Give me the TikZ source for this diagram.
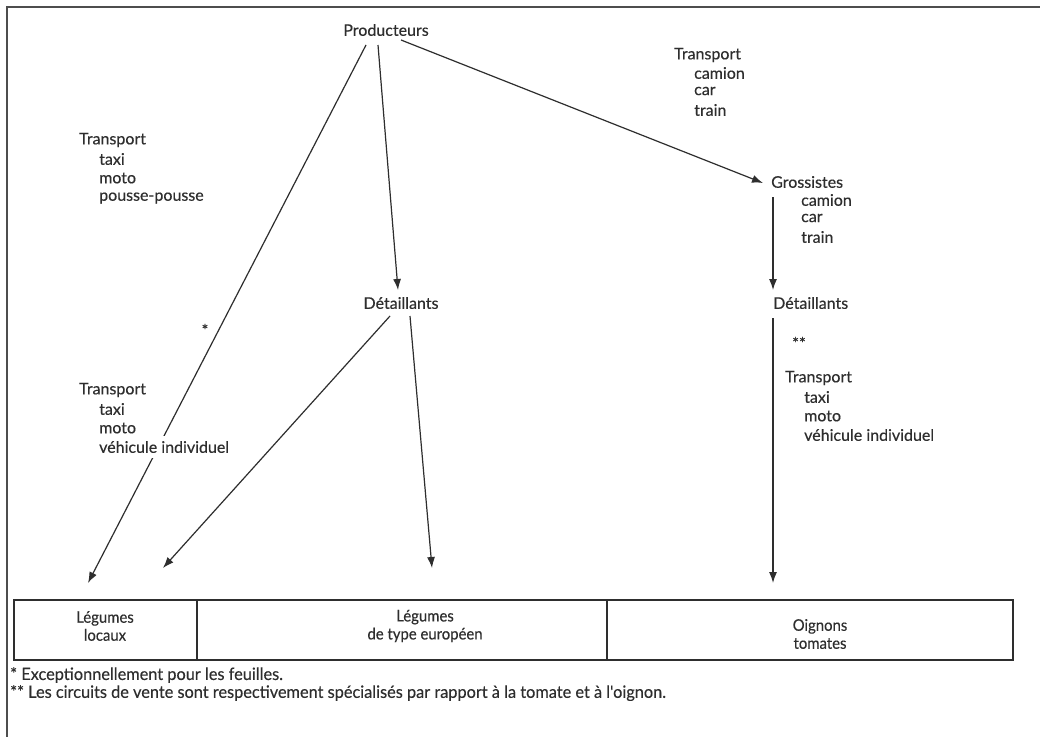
\documentclass[tikz,border=0pt]{standalone}
\usepackage{fontspec}
\setmainfont{Lato}[FakeBold=0.35]
\newfontfamily\condfont[FakeStretch=0.93,FakeBold=0.3]{Lato}
\newfontfamily\footfont[FakeStretch=0.96,FakeBold=0.3]{Lato}
\usetikzlibrary{arrows.meta,calc}
\definecolor{ink}{HTML}{2E2E2E}
\begin{document}
\begin{tikzpicture}[x=1pt,y=-1pt,
  lab/.style={inner sep=1pt,text=ink,font=\fontsize{16}{18}\selectfont},
  lw/.style={lab,anchor=west},
  boxtxt/.style={inner sep=1pt,text=ink,align=center,font=\condfont\fontsize{16}{18}\selectfont},
  foot/.style={inner sep=0pt,anchor=west,text=ink,font=\footfont\fontsize{17}{19}\selectfont},
  arr/.style={draw=ink,line width=1.2pt,-{Latex[length=11pt,width=8pt]}},
  frame/.style={draw=ink!85,line width=1.6pt},
  cell/.style={draw=ink,line width=1.1pt}]
\useasboundingbox (0,0) rectangle (1040,736);
\fill[white] (0,0) rectangle (1040,736);
% outer frame (right and bottom edges lie outside the picture)
\draw[frame] (7,745) -- (7,7) -- (1050,7);

% connector end points
\coordinate (p1) at (366,45);
\coordinate (p2) at (378,45);
\coordinate (p3) at (401,40);
\coordinate (t1) at (88,583);
\coordinate (t2) at (398,290);
\coordinate (t3) at (763,183);
\coordinate (g1) at (773,197);
\coordinate (t4) at (773,290);
\coordinate (d1) at (773,318);
\coordinate (t5) at (773,583);
\coordinate (m1) at (390,316);
\coordinate (t6) at (163,568);
\coordinate (m2) at (410,316);
\coordinate (t7) at (432,568);

% arrows
\draw[arr] (p1) -- (t1);
\draw[arr] (p2) -- (t2);
\draw[arr] (p3) -- (t3);
\draw[arr] (g1) -- (t4);
\draw[arr] (d1) -- (t5);
\draw[arr] (m1) -- (t6);
\draw[arr] (m2) -- (t7);

% labels
\node[lab] (prod) at (386,30) {Producteurs};

\node[lw] (trA) at (78,140) {Transport};
\node[lw] (trA1) at (98,159) {taxi};
\node[lw] (trA2) at (98,178) {moto};
\node[lw] (trA3) at (98,198) {pousse-pousse};

\node[lw] (trB) at (673,55) {Transport};
\node[lw] (trB1) at (693,73) {camion};
\node[lw] (trB2) at (693,91) {car};
\node[lw] (trB3) at (693,110) {train};

\node[lw] (gros) at (770,182) {Grossistes};
\node[lw] (gros1) at (800,200) {camion};
\node[lw] (gros2) at (800,218) {car};
\node[lw] (gros3) at (800,237) {train};

\node[lab] (detM) at (401,303) {Détaillants};
\node[lw] (detR) at (772,303) {Détaillants};

\node[lab] (star) at (205,330) {*};
\node[lab] (dstar) at (799,343) {**};

\node[lw] (trC) at (78,390) {Transport};
\node[lw] (trC1) at (98,409) {taxi};
\node[lw] (trC2) at (98,428) {moto};
\node[lw,fill=white,inner ysep=5pt] (trC3) at (98,447) {véhicule individuel};

\node[lw] (trD) at (784,378) {Transport};
\node[lw] (trD1) at (803,397) {taxi};
\node[lw] (trD2) at (803,416) {moto};
\node[lw] (trD3) at (803,435) {véhicule individuel};

% bottom table
\draw[cell] (14,600) rectangle (1013,660);
\draw[cell] (197,600) -- (197,660);
\draw[cell] (607,600) -- (607,660);
\node[boxtxt] (locaux) at (105,626) {Légumes\\locaux};
\node[boxtxt] (europ) at (425,626) {Légumes\\de type européen};
\node[boxtxt] (oign) at (820,634) {Oignons\\tomates};

% footnotes
\node[foot] (fn1) at (10,675) {* Exceptionnellement pour les feuilles.};
\node[foot] (fn2) at (10,693) {** Les circuits de vente sont respectivement spécialisés par rapport à la tomate et à l'oignon.};
\end{tikzpicture}
\end{document}
